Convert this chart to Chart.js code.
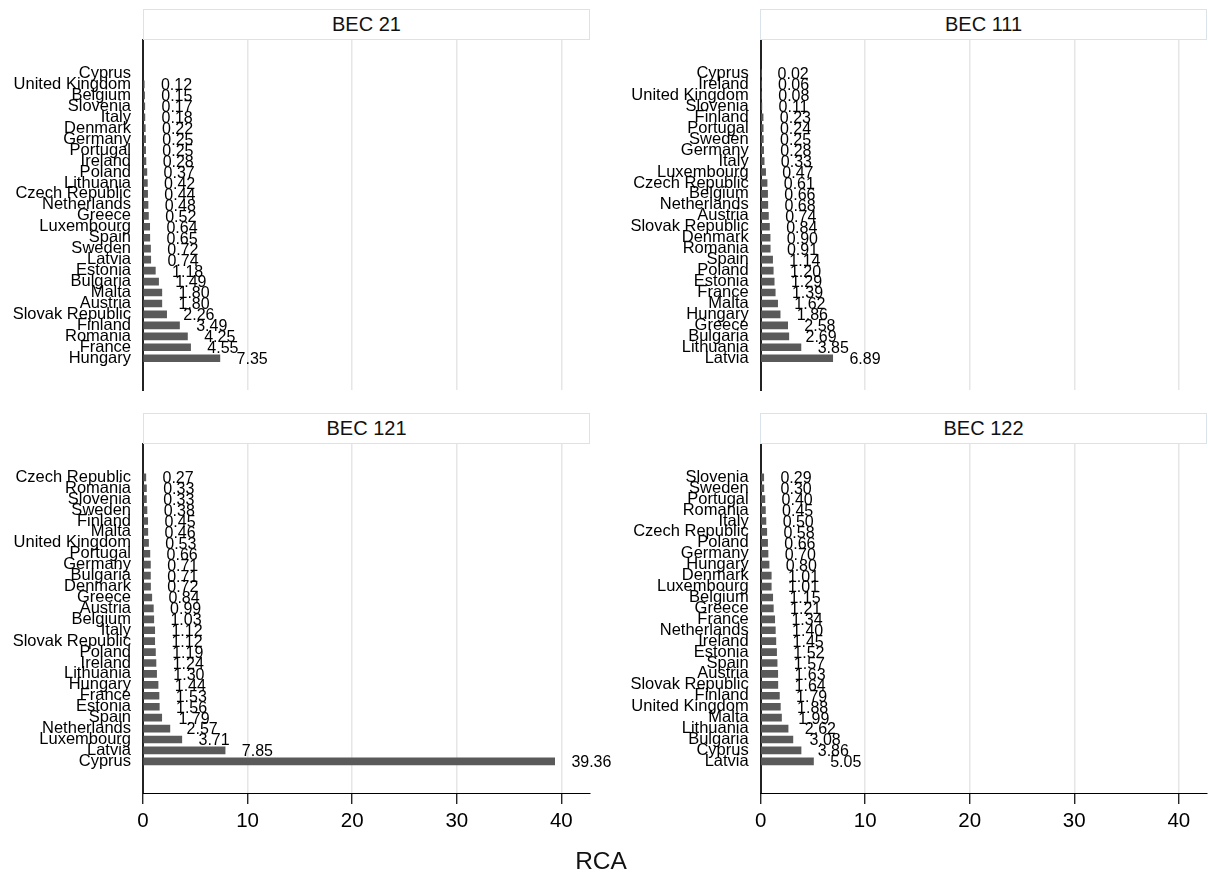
<!DOCTYPE html>
<html>
<head>
<meta charset="utf-8">
<script src="https://cdn.jsdelivr.net/npm/chart.js@4.4.1/dist/chart.umd.min.js"></script>
<style>
  html, body { margin: 0; padding: 0; background: #fff; }
  body { width: 1208px; height: 875px; overflow: hidden; position: relative; font-family: "Liberation Sans", Arial, sans-serif; }
  .wrap { position: absolute; }
  .hdr { position: absolute; box-sizing: border-box; border: 1.5px solid #d9e4ea; background: #fff;
         text-align: center; font-size: 20px; line-height: 28px; color: #111; z-index: 2; }
  #rca { position: absolute; left: 541px; width: 120px; top: 849px; text-align: center;
         font-size: 24.5px; line-height: 24px; color: #111; }
</style>
</head>
<body>
<div class="wrap" id="w1" style="left:0;top:0;width:620px;height:400px"><canvas id="c1"></canvas></div>
<div class="wrap" id="w2" style="left:615px;top:0;width:593px;height:400px"><canvas id="c2"></canvas></div>
<div class="wrap" id="w3" style="left:0;top:404px;width:620px;height:471px"><canvas id="c3"></canvas></div>
<div class="wrap" id="w4" style="left:615px;top:404px;width:593px;height:471px"><canvas id="c4"></canvas></div>

<div class="hdr" style="left:143px;top:9px;width:447px;height:31px">BEC 21</div>
<div class="hdr" style="left:760px;top:9px;width:447px;height:31px">BEC 111</div>
<div class="hdr" style="left:143px;top:413px;width:447px;height:31px">BEC 121</div>
<div class="hdr" style="left:760px;top:413px;width:447px;height:31px">BEC 122</div>
<div id="rca">RCA</div>

<script>
// ---------------- DATA ----------------
const bec21Countries = ["Cyprus","United Kingdom","Belgium","Slovenia","Italy","Denmark","Germany","Portugal","Ireland","Poland","Lithuania","Czech Republic","Netherlands","Greece","Luxembourg","Spain","Sweden","Latvia","Estonia","Bulgaria","Malta","Austria","Slovak Republic","Finland","Romania","France","Hungary"];
const bec21Values = [null,0.12,0.15,0.17,0.18,0.22,0.25,0.25,0.28,0.37,0.42,0.44,0.48,0.52,0.64,0.65,0.72,0.74,1.18,1.49,1.80,1.80,2.26,3.49,4.25,4.55,7.35];

const bec111Countries = ["Cyprus","Ireland","United Kingdom","Slovenia","Finland","Portugal","Sweden","Germany","Italy","Luxembourg","Czech Republic","Belgium","Netherlands","Austria","Slovak Republic","Denmark","Romania","Spain","Poland","Estonia","France","Malta","Hungary","Greece","Bulgaria","Lithuania","Latvia"];
const bec111Values = [0.02,0.06,0.08,0.11,0.23,0.24,0.25,0.28,0.33,0.47,0.61,0.66,0.68,0.74,0.84,0.90,0.91,1.14,1.20,1.29,1.39,1.62,1.86,2.58,2.69,3.85,6.89];

const bec121Countries = ["Czech Republic","Romania","Slovenia","Sweden","Finland","Malta","United Kingdom","Portugal","Germany","Bulgaria","Denmark","Greece","Austria","Belgium","Italy","Slovak Republic","Poland","Ireland","Lithuania","Hungary","France","Estonia","Spain","Netherlands","Luxembourg","Latvia","Cyprus"];
const bec121Values = [0.27,0.33,0.33,0.38,0.45,0.46,0.53,0.66,0.71,0.71,0.72,0.84,0.99,1.03,1.12,1.12,1.19,1.24,1.30,1.44,1.53,1.56,1.79,2.57,3.71,7.85,39.36];

const bec122Countries = ["Slovenia","Sweden","Portugal","Romania","Italy","Czech Republic","Poland","Germany","Hungary","Denmark","Luxembourg","Belgium","Greece","France","Netherlands","Ireland","Estonia","Spain","Austria","Slovak Republic","Finland","United Kingdom","Malta","Lithuania","Bulgaria","Cyprus","Latvia"];
const bec122Values = [0.29,0.30,0.40,0.45,0.50,0.58,0.66,0.70,0.80,1.01,1.01,1.15,1.21,1.34,1.40,1.45,1.52,1.57,1.63,1.64,1.79,1.88,1.99,2.62,3.08,3.86,5.05];

const xTickStep = 10;
const xMin = 0;
const xMax = 42.67;

// ---------------- STYLE ----------------
const FONT = '"Liberation Sans", Arial, sans-serif';
const BAR_COLOR = '#5a5a5a';
const GRID_COLOR = '#e6e6e6';
const LABEL_GAP = 16.7;
const ROW_PAD_TOP = 3.05;
const ROW_PAD_BOTTOM = 2.9;

const valueLabels = {
  id: 'valueLabels',
  afterDatasetsDraw(chart) {
    const ctx = chart.ctx;
    const meta = chart.getDatasetMeta(0);
    const data = chart.data.datasets[0].data;
    ctx.save();
    ctx.font = '16px ' + FONT;
    ctx.fillStyle = '#000';
    ctx.textAlign = 'left';
    ctx.textBaseline = 'middle';
    meta.data.forEach((bar, i) => {
      const v = data[i];
      if (v === null || v === undefined) return;
      ctx.fillText(v.toFixed(2), bar.x + LABEL_GAP, bar.y + 1.5);
    });
    ctx.restore();
  }
};

function makeChart(id, labels, values, yWidth, showX, pad) {
  return new Chart(document.getElementById(id), {
    type: 'bar',
    data: {
      labels: labels,
      datasets: [{
        data: values,
        backgroundColor: BAR_COLOR,
        borderWidth: 0,
        barThickness: 7
      }]
    },
    options: {
      indexAxis: 'y',
      responsive: true,
      maintainAspectRatio: false,
      animation: false,
      layout: { padding: pad },
      plugins: { legend: { display: false }, tooltip: { enabled: false }, title: { display: false } },
      scales: {
        y: {
          type: 'category',
          offset: true,
          grid: { display: false, drawTicks: false },
          border: { display: true, color: '#222', width: 2 },
          ticks: {
            autoSkip: false,
            padding: 12,
            color: '#000',
            font: { family: FONT, size: 16.5 }
          },
          afterFit: (scale) => {
            scale.width = yWidth;
            scale.paddingTop = 0;
            scale.paddingBottom = 0;
          },
          afterBuildTicks: (scale) => {
            const n = scale.getLabels().length;
            scale._startValue = -ROW_PAD_TOP;
            scale._valueRange = (n - 1) + ROW_PAD_TOP + ROW_PAD_BOTTOM;
          }
        },
        x: {
          type: 'linear',
          min: xMin,
          max: xMax,
          grid: {
            display: true,
            color: GRID_COLOR,
            lineWidth: 1.5,
            drawTicks: showX,
            tickLength: 11,
            tickColor: '#000',
            tickWidth: 1.2
          },
          border: { display: showX, color: '#000', width: 1 },
          ticks: {
            display: showX,
            stepSize: xTickStep,
            includeBounds: false,
            maxRotation: 0,
            padding: 5,
            color: '#000',
            font: { family: FONT, size: 20.5 }
          },
          afterFit: (scale) => {
            scale.height = showX ? 50 : 0;
            scale.paddingLeft = 0;
            scale.paddingRight = 0;
          }
        }
      }
    },
    plugins: [valueLabels]
  });
}

makeChart('c1', bec21Countries, bec21Values, 143, false, { top: 40, right: 30.7, bottom: 10, left: 0 });
makeChart('c2', bec111Countries, bec111Values, 145.7, false, { top: 40, right: 1.3, bottom: 10, left: 0 });
makeChart('c3', bec121Countries, bec121Values, 143, true, { top: 40, right: 30.7, bottom: 32, left: 0 });
makeChart('c4', bec122Countries, bec122Values, 145.7, true, { top: 40, right: 1.3, bottom: 32, left: 0 });
</script>
</body>
</html>
